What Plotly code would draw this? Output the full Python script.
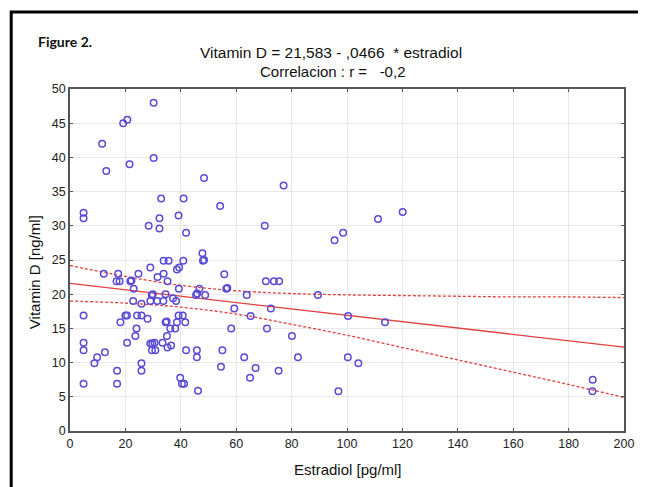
import plotly.graph_objects as go

# ---- data ----
estradiol = [
    30.2, 19.2, 20.7, 11.6, 13.1, 21.5, 30.2, 32.9, 41.0, 4.9, 4.9, 32.3, 39.2,
    48.4, 54.2, 77.1,
    28.4, 32.3, 41.9, 33.8, 35.6, 40.9, 29.0, 38.6, 39.4, 12.2, 17.4, 24.7, 33.8,
    31.6, 16.8, 17.9, 21.8, 22.2, 35.2, 23.0, 39.3, 29.5, 29.9, 34.5, 37.2, 38.3,
    22.8, 25.8, 29.0, 31.5, 33.7, 4.9, 18.2, 20.0, 20.6, 24.2, 25.8, 28.0, 39.2,
    40.7, 34.5, 34.9, 38.6, 41.6, 38.0, 36.2, 24.0, 35.0,
    4.9, 4.9, 20.6, 23.6, 29.0, 29.7, 30.5, 29.6, 30.8, 33.4, 35.2, 36.5, 41.9,
    45.8, 45.8, 12.6, 9.8, 8.8, 25.8, 25.8, 17.0, 4.9, 17.0, 39.8, 40.4, 41.2, 46.2,
    70.3, 47.8, 48.0, 48.4, 55.7, 70.7, 73.6, 75.5, 46.7, 56.4, 56.8, 45.5, 45.9,
    48.8, 63.8, 89.5, 59.3, 72.5, 65.2, 58.2, 71.1, 80.1,
    55.0, 62.9, 82.3, 54.5, 67.0, 75.3, 65.0,
    120.1, 111.2, 98.6, 95.5, 100.4, 113.7, 100.3, 104.1, 96.9,
    188.7, 188.6,
]
vitamin_d = [
    48.0, 45.0, 45.5, 42.0, 38.0, 39.0, 39.9, 34.0, 34.0, 31.9, 31.1, 31.1, 31.5,
    37.0, 32.9, 35.9,
    30.0, 29.6, 29.0, 24.9, 24.9, 24.9, 23.9, 23.6, 23.9, 23.0, 23.0, 23.0, 23.0,
    22.5, 21.9, 21.9, 21.9, 22.0, 21.9, 20.8, 20.8, 19.9, 20.0, 20.0, 19.4, 19.0,
    19.0, 18.6, 19.0, 19.0, 19.0, 16.9, 15.9, 16.9, 16.9, 16.9, 16.9, 16.4, 16.9,
    16.9, 15.9, 16.0, 15.9, 15.9, 15.0, 15.0, 15.0, 13.9,
    12.9, 11.8, 12.9, 13.9, 12.8, 12.8, 12.9, 11.8, 11.8, 12.9, 12.2, 12.5, 11.8,
    11.8, 10.8, 11.5, 10.8, 9.9, 9.9, 8.8, 8.8, 6.9, 6.9, 7.8, 6.9, 6.9, 5.9,
    30.0, 26.0, 24.9, 25.0, 22.9, 21.9, 21.9, 21.9, 20.8, 20.8, 20.9, 19.9, 20.1,
    19.9, 19.9, 19.9, 17.9, 17.9, 16.8, 15.0, 15.0, 13.9,
    11.8, 10.8, 10.8, 9.4, 9.2, 8.8, 7.8,
    32.0, 31.0, 29.0, 27.9, 16.8, 15.9, 10.8, 9.9, 5.8,
    7.5, 5.8,
]

reg_x = [0, 200]
reg_y = [21.58, 12.26]

band_x = [0, 20, 40, 60, 80, 100, 120, 140, 160, 180, 200]
band_upper = [24.2, 22.6, 21.3, 20.5, 20.1, 19.9, 19.8, 19.7, 19.6, 19.6, 19.5]
band_lower = [19.0, 18.7, 18.1, 17.1, 15.6, 14.0, 12.2, 10.4, 8.6, 6.8, 4.9]

x_ticks = [0, 20, 40, 60, 80, 100, 120, 140, 160, 180, 200]
y_ticks = [0, 5, 10, 15, 20, 25, 30, 35, 40, 45, 50]

title_line1 = "Vitamin D = 21,583 - ,0466\u00a0\u00a0* estradiol"
title_line2 = "Correlacion : r =\u00a0\u00a0\u00a0-0,2"
fig_label = "Figure 2."
x_title = "Estradiol [pg/ml]"
y_title = "Vitamin D [ng/ml]"

# ---- figure ----
# the page body has an 8px default margin, so the figure is offset by 8px
OFF = 8
W, H = 646 - OFF, 487 - OFF
L, R, T, B = 70 - OFF, 20, 89 - OFF, 56
PW, PH = W - L - R, H - T - B


def px(xp):  # xp given in window pixels
    return (xp - OFF - L) / PW


def py(yp):  # yp given in window pixels
    return (H - B - (yp - OFF)) / PH


FONT = "Liberation Sans, Arial, sans-serif"
RED = "#e2403e"

fig = go.Figure()
fig.add_trace(go.Scatter(x=band_x, y=band_upper, mode="lines",
                         line=dict(color=RED, width=1.3, dash="3px,2px", shape="spline"),
                         hoverinfo="skip"))
fig.add_trace(go.Scatter(x=band_x, y=band_lower, mode="lines",
                         line=dict(color=RED, width=1.3, dash="3px,2px", shape="spline"),
                         hoverinfo="skip"))
fig.add_trace(go.Scatter(x=reg_x, y=reg_y, mode="lines",
                         line=dict(color=RED, width=1.3)))
fig.add_trace(go.Scatter(x=estradiol, y=vitamin_d, mode="markers",
                         marker=dict(symbol="circle-open", size=6.5,
                                     color="#5a4bd6", line=dict(width=1.5, color="#5a4bd6"))))

axis_common = dict(
    showgrid=True, gridcolor="#e8e8e8", gridwidth=1,
    showline=True, linecolor="#555555", linewidth=1.5, mirror="ticks",
    ticks="inside", ticklen=3, tickcolor="#555555",
    tickfont=dict(family=FONT, size=12.5, color="#222222"),
    zeroline=False,
)

fig.update_layout(
    width=W, height=H,
    margin=dict(l=L, r=R, t=T, b=B, pad=0),
    paper_bgcolor="white", plot_bgcolor="white",
    showlegend=False,
    xaxis=dict(range=[0, 200], tickvals=x_ticks, **axis_common),
    yaxis=dict(range=[0, 50], tickvals=y_ticks, **axis_common),
    annotations=[
        dict(text=title_line1, xref="paper", yref="paper", x=px(332), y=py(53),
             xanchor="center", yanchor="middle", showarrow=False,
             font=dict(family=FONT, size=15.5, color="#111111")),
        dict(text=title_line2, xref="paper", yref="paper", x=px(333), y=py(71),
             xanchor="center", yanchor="middle", showarrow=False,
             font=dict(family=FONT, size=15, color="#111111")),
        dict(text="<b>" + fig_label + "</b>", xref="paper", yref="paper", x=px(36), y=py(41),
             xanchor="left", yanchor="middle", showarrow=False,
             font=dict(family="Lato, Open Sans, sans-serif", size=14, color="#111111")),
        dict(text=x_title, xref="paper", yref="paper", x=px(349), y=py(470),
             xanchor="center", yanchor="middle", showarrow=False,
             font=dict(family=FONT, size=15, color="#111111")),
        dict(text=y_title, xref="paper", yref="paper", x=px(34), y=py(272),
             xanchor="center", yanchor="middle", showarrow=False, textangle=-90,
             font=dict(family=FONT, size=15, color="#111111")),
    ],
    shapes=[
        dict(type="rect", xref="paper", yref="paper",
             x0=px(11), x1=px(644), y0=py(495), y1=py(12),
             line=dict(color="black", width=3), fillcolor="rgba(0,0,0,0)", layer="above"),
    ],
)

fig.write_html("out.html")
